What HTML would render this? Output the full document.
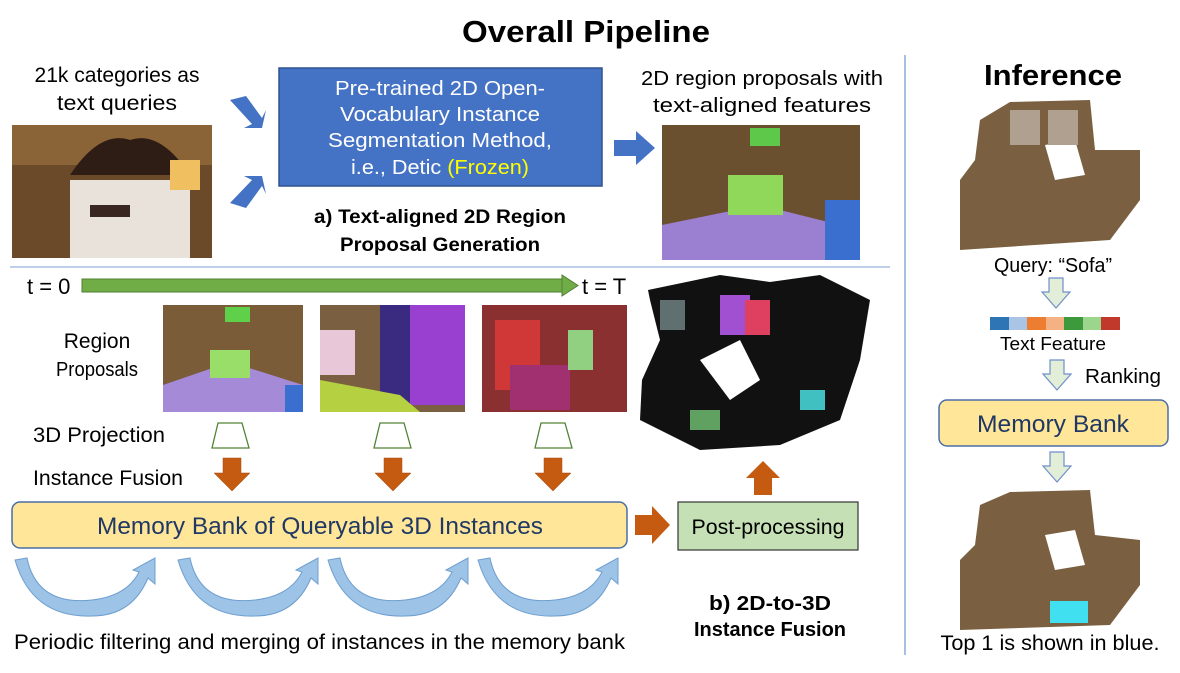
<!DOCTYPE html>
<html><head><meta charset="utf-8"><style>
body{margin:0;background:#fff;}
svg text{font-family:"Liberation Sans",sans-serif;}
</style></head><body>
<svg width="1180" height="668" viewBox="0 0 1180 668" xmlns="http://www.w3.org/2000/svg">
<defs>
<g id="crv">
<path d="M0,0 Q10,48 65,42 Q100,38 112,14 L106,12 L128,0 L128,26 L121,20 Q105,58 65,58 Q5,60 -12,2 Z" fill="#9dc3e6" stroke="#6f9fd0" stroke-width="1"/>
</g>
<g id="dn">
<path d="M-7,0 H7 V14 H14 L0,30 L-14,14 H-7 Z" fill="#e2eed8" stroke="#6f8fc9" stroke-width="1.2"/>
</g>
<g id="or">
<path d="M-9,0 H9 V15 H18 L0,33 L-18,15 H-9 Z" fill="#c55a11" stroke="#a64a0f" stroke-width="0.5"/>
</g>
</defs>
<text x="586" y="42" font-size="31" font-weight="bold" text-anchor="middle" textLength="248" lengthAdjust="spacingAndGlyphs">Overall Pipeline</text>
<line x1="905" y1="55" x2="905" y2="655" stroke="#a9bfe0" stroke-width="2"/>
<line x1="10" y1="267" x2="890" y2="267" stroke="#a9bfe0" stroke-width="1.5"/>

<text x="117" y="82" font-size="21" text-anchor="middle" textLength="165" lengthAdjust="spacingAndGlyphs">21k categories as</text>
<text x="117" y="110" font-size="21" text-anchor="middle" textLength="120" lengthAdjust="spacingAndGlyphs">text queries</text>
<rect x="12" y="125" width="200" height="133" fill="#6b4a2a"/>
<rect x="12" y="125" width="200" height="40" fill="#8a6436"/>
<rect x="70" y="180" width="120" height="78" fill="#e8e2da"/>
<path d="M70,175 Q100,130 130,140 Q160,130 190,175 Z" fill="#2e1d14"/>
<rect x="170" y="160" width="30" height="30" fill="#f0c060"/>
<rect x="90" y="205" width="40" height="12" fill="#3a2620"/>
<path d="M230,100 L246,96 L262,118 L266,110 L262,128 L244,128 L252,124 Z" fill="#4472c4"/>
<path d="M230,203 L246,208 L262,186 L266,194 L262,176 L244,176 L252,180 Z" fill="#4472c4"/>

<rect x="279" y="68" width="323" height="118" fill="#4472c4" stroke="#2f528f" stroke-width="1.5"/>
<text x="440" y="95" font-size="20" fill="#fff" text-anchor="middle" textLength="210" lengthAdjust="spacingAndGlyphs">Pre-trained 2D Open-</text>
<text x="440" y="121" font-size="20" fill="#fff" text-anchor="middle" textLength="200" lengthAdjust="spacingAndGlyphs">Vocabulary Instance</text>
<text x="440" y="147" font-size="20" fill="#fff" text-anchor="middle" textLength="224" lengthAdjust="spacingAndGlyphs">Segmentation Method,</text>
<text x="440" y="174" font-size="20" fill="#fff" text-anchor="middle" textLength="178" lengthAdjust="spacingAndGlyphs">i.e., Detic <tspan fill="#ffff00">(Frozen)</tspan></text>
<text x="440" y="223" font-size="19" font-weight="bold" text-anchor="middle" textLength="252" lengthAdjust="spacingAndGlyphs">a) Text-aligned 2D Region</text>
<text x="440" y="251" font-size="19" font-weight="bold" text-anchor="middle" textLength="200" lengthAdjust="spacingAndGlyphs">Proposal Generation</text>
<path d="M614,140 H636 V131 L655,148 L636,165 V156 H614 Z" fill="#4472c4"/>

<text x="762" y="85" font-size="20" text-anchor="middle" textLength="242" lengthAdjust="spacingAndGlyphs">2D region proposals with</text>
<text x="762" y="112" font-size="20" text-anchor="middle" textLength="218" lengthAdjust="spacingAndGlyphs">text-aligned features</text>
<rect x="662" y="125" width="198" height="135" fill="#6b5030"/>
<path d="M662,225 L760,205 L860,230 V260 H662 Z" fill="#9b7fd0"/>
<rect x="728" y="175" width="55" height="40" fill="#8fd85a"/>
<rect x="750" y="128" width="30" height="18" fill="#5ec84a"/>
<rect x="825" y="200" width="35" height="60" fill="#3a6fd0"/>

<text x="27" y="294" font-size="22">t = 0</text>
<rect x="82" y="279" width="480" height="13" fill="#70ad47" stroke="#507e32"/>
<path d="M562,275 L578,285.5 L562,296 Z" fill="#70ad47" stroke="#507e32"/>
<text x="582" y="294" font-size="22">t = T</text>

<text x="97" y="348" font-size="21" text-anchor="middle">Region</text>
<text x="97" y="376" font-size="20" text-anchor="middle" textLength="82" lengthAdjust="spacingAndGlyphs">Proposals</text>
<rect x="163" y="305" width="140" height="107" fill="#7a5c38"/>
<path d="M163,412 V385 L230,362 L303,385 V412 Z" fill="#a58ad8"/>
<rect x="210" y="350" width="40" height="28" fill="#9ade6a"/>
<rect x="225" y="307" width="25" height="15" fill="#5ed04a"/>
<rect x="285" y="385" width="18" height="27" fill="#3a6fd0"/>
<rect x="320" y="305" width="145" height="107" fill="#7a6040"/>
<rect x="410" y="305" width="55" height="100" fill="#9a40d0"/>
<rect x="380" y="305" width="30" height="100" fill="#3a2a80"/>
<path d="M320,412 V380 L400,395 L420,412 Z" fill="#b5d040"/>
<rect x="320" y="330" width="35" height="45" fill="#e8c8d8"/>
<rect x="482" y="305" width="145" height="107" fill="#8a3030"/>
<rect x="495" y="320" width="45" height="70" fill="#d03838"/>
<rect x="510" y="365" width="60" height="45" fill="#a03070"/>
<rect x="568" y="330" width="25" height="40" fill="#90d080"/>

<text x="33" y="442" font-size="21" textLength="132" lengthAdjust="spacingAndGlyphs">3D Projection</text>
<text x="33" y="485" font-size="21" textLength="150" lengthAdjust="spacingAndGlyphs">Instance Fusion</text>
<path d="M218,423 H242 L249,448 H212 Z" fill="#fff" stroke="#548235" stroke-width="1.3"/>
<path d="M380,423 H404 L411,448 H374 Z" fill="#fff" stroke="#548235" stroke-width="1.3"/>
<path d="M541,423 H565 L572,448 H535 Z" fill="#fff" stroke="#548235" stroke-width="1.3"/>
<use href="#or" x="232" y="458"/>
<use href="#or" x="393" y="458"/>
<use href="#or" x="553" y="458"/>

<rect x="12" y="502" width="615" height="46" rx="8" fill="#ffe699" stroke="#4a6fa5" stroke-width="1.5"/>
<text x="320" y="534" font-size="24" fill="#1f3864" text-anchor="middle" textLength="446" lengthAdjust="spacingAndGlyphs">Memory Bank of Queryable 3D Instances</text>
<path d="M635,515 H652 V506 L670,525 L652,544 V535 H635 Z" fill="#c55a11"/>
<rect x="678" y="502" width="180" height="48" fill="#c5e0b4" stroke="#333" stroke-width="1.2"/>
<text x="768" y="534" font-size="21" text-anchor="middle" textLength="153" lengthAdjust="spacingAndGlyphs">Post-processing</text>
<path d="M754,495 V478 H746 L763,461 L780,478 H772 V495 Z" fill="#c55a11"/>

<path d="M648,290 L720,275 L770,282 L820,275 L870,300 L860,360 L840,420 L780,445 L700,450 L640,420 L642,380 L660,340 L650,300 Z" fill="#111"/>
<path d="M700,360 L740,340 L760,380 L730,400 Z" fill="#fff"/>
<rect x="720" y="295" width="30" height="40" fill="#a050d0"/>
<rect x="745" y="300" width="25" height="35" fill="#e04060"/>
<rect x="660" y="300" width="25" height="30" fill="#607070"/>
<rect x="800" y="390" width="25" height="20" fill="#40c0c0"/>
<rect x="690" y="410" width="30" height="20" fill="#60a060"/>

<use href="#crv" x="27" y="558"/>
<use href="#crv" x="190" y="558"/>
<use href="#crv" x="340" y="558"/>
<use href="#crv" x="490" y="558"/>
<text x="770" y="610" font-size="20" font-weight="bold" text-anchor="middle" textLength="122" lengthAdjust="spacingAndGlyphs">b) 2D-to-3D</text>
<text x="770" y="636" font-size="20" font-weight="bold" text-anchor="middle" textLength="152" lengthAdjust="spacingAndGlyphs">Instance Fusion</text>
<text x="14" y="649" font-size="21" textLength="611" lengthAdjust="spacingAndGlyphs">Periodic filtering and merging of instances in the memory bank</text>

<text x="1053" y="85" font-size="29" font-weight="bold" text-anchor="middle" textLength="138" lengthAdjust="spacingAndGlyphs">Inference</text>
<path d="M960,180 L975,160 L980,120 L1010,102 L1090,100 L1095,150 L1140,150 L1140,200 L1110,240 L960,250 Z" fill="#7a6040"/>
<path d="M1045,145 L1075,140 L1085,175 L1055,180 Z" fill="#fff"/>
<rect x="1010" y="110" width="30" height="35" fill="#b0a090"/>
<rect x="1048" y="110" width="30" height="35" fill="#b0a090"/>
<text x="1053" y="272" font-size="20" text-anchor="middle" textLength="118" lengthAdjust="spacingAndGlyphs">Query: “Sofa”</text>
<use href="#dn" x="1056" y="278"/>
<rect x="990" y="317" width="19" height="13" fill="#2e75b6"/>
<rect x="1009" y="317" width="18" height="13" fill="#a9c4e4"/>
<rect x="1027" y="317" width="19" height="13" fill="#ed7d31"/>
<rect x="1046" y="317" width="18" height="13" fill="#f4b183"/>
<rect x="1064" y="317" width="19" height="13" fill="#3c9a3c"/>
<rect x="1083" y="317" width="18" height="13" fill="#9bd68c"/>
<rect x="1101" y="317" width="19" height="13" fill="#c0392b"/>
<text x="1053" y="350" font-size="18.5" text-anchor="middle" textLength="106" lengthAdjust="spacingAndGlyphs">Text Feature</text>
<use href="#dn" x="1057" y="360"/>
<text x="1085" y="383" font-size="20" textLength="76" lengthAdjust="spacingAndGlyphs">Ranking</text>
<rect x="939" y="400" width="229" height="46" rx="8" fill="#ffe699" stroke="#4a6fa5" stroke-width="1.5"/>
<text x="1053" y="432" font-size="24" fill="#1f3864" text-anchor="middle" textLength="152" lengthAdjust="spacingAndGlyphs">Memory Bank</text>
<use href="#dn" x="1057" y="452"/>
<path d="M960,560 L975,545 L980,505 L1010,492 L1090,490 L1095,535 L1140,540 L1140,585 L1110,625 L960,630 Z" fill="#7a6040"/>
<path d="M1045,535 L1075,530 L1085,565 L1055,570 Z" fill="#fff"/>
<rect x="1050" y="601" width="38" height="22" fill="#40e0f0"/>
<text x="1050" y="650" font-size="21" text-anchor="middle" textLength="219" lengthAdjust="spacingAndGlyphs">Top 1 is shown in blue.</text>
</svg>
</body></html>
